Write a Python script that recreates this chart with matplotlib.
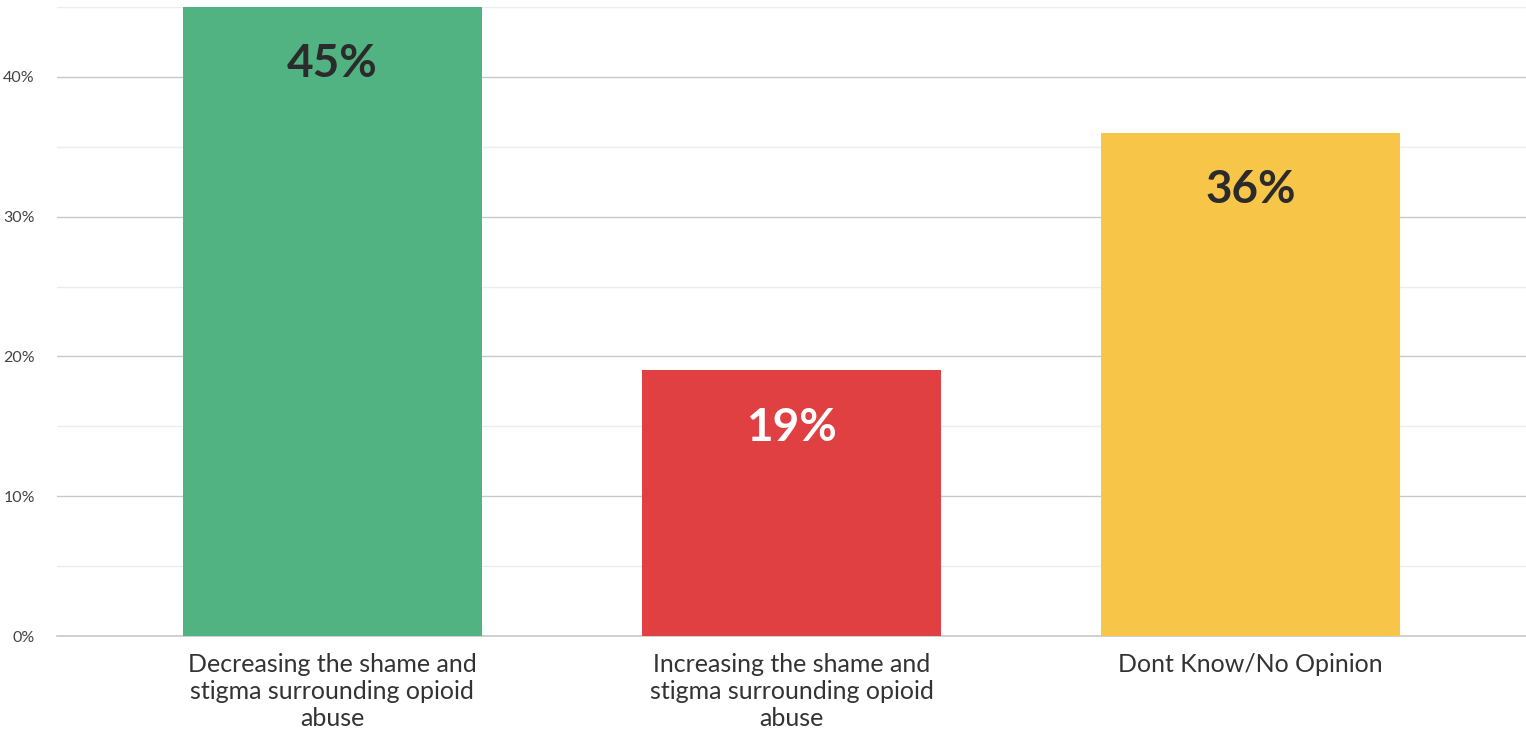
import matplotlib
matplotlib.use("Agg")
import matplotlib.pyplot as plt
from matplotlib.ticker import MultipleLocator, FuncFormatter

categories = [
    "Decreasing the shame and\nstigma surrounding opioid\nabuse",
    "Increasing the shame and\nstigma surrounding opioid\nabuse",
    "Dont Know/No Opinion",
]
values = [45, 19, 36]
bar_colors = ["#52b382", "#e14043", "#f7c547"]
label_colors = ["#2b2b2b", "#ffffff", "#2b2b2b"]

plt.rcParams["font.family"] = ["Lato", "DejaVu Sans"]

fig = plt.figure(figsize=(15.26, 7.29), dpi=100)
ax = fig.add_axes([57 / 1526, 93 / 729, 1 - 57 / 1526, 629 / 729])

x = range(len(categories))
bars = ax.bar(x, values, width=0.65, color=bar_colors, zorder=3)

# value labels sit just inside the top of each bar
for b, v, c in zip(bars, values, label_colors):
    ax.text(b.get_x() + b.get_width() / 2, v - 4.1, f"{v}%",
            ha="center", va="center", fontsize=33, fontweight="bold",
            color=c, zorder=4)

ax.set_xlim(-0.6, 2.6)
ax.set_ylim(0, 45)
ax.yaxis.set_major_locator(MultipleLocator(10))
ax.yaxis.set_minor_locator(MultipleLocator(5))
ax.yaxis.set_major_formatter(FuncFormatter(lambda v, _: f"{v:.0f}%"))
ax.grid(axis="y", which="major", color="#c8c8c8", linewidth=1, zorder=0)
ax.grid(axis="y", which="minor", color="#ececec", linewidth=1, zorder=0)
ax.axhline(0, color="#c8c8c8", linewidth=1.2, clip_on=False, zorder=2)
ax.set_axisbelow(True)

ax.set_xticks(list(x))
ax.set_xticklabels(categories, fontsize=18, color="#333333", linespacing=1.22)
ax.tick_params(axis="x", length=0, pad=12)
ax.tick_params(axis="y", which="both", length=0, pad=16,
               labelsize=11.5, labelcolor="#444444")

for s in ax.spines.values():
    s.set_visible(False)

fig.savefig("out.png", dpi=100)
